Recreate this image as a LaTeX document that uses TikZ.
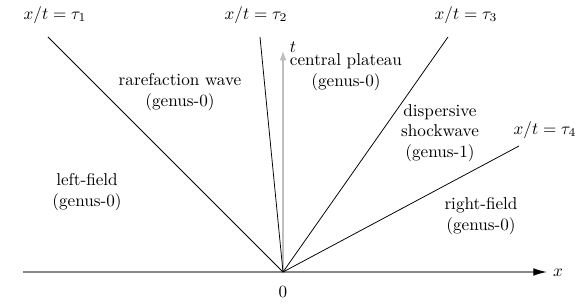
\documentclass[tikz,border=0pt]{standalone}
\usetikzlibrary{arrows.meta,positioning}
\definecolor{axisgray}{RGB}{135,135,135}
\definecolor{timegray}{RGB}{190,190,190}

\begin{document}
\begin{tikzpicture}[
    x=0.0205cm, y=-0.0205cm,
    region/.style={align=center, inner sep=1pt},
    ray/.style={line width=0.45pt, black},
    xaxis/.style={line width=0.8pt, axisgray, -{Latex[black, length=8pt, width=4.5pt]}},
    taxis/.style={line width=0.7pt, timegray, -{Latex[length=5.5pt, width=4pt]}}
]
\useasboundingbox (0,0) rectangle (581,304);
% origin and ends of the rays
\coordinate (o) at (283,272);
\coordinate (xstart) at (23,272);
\coordinate (xend) at (547,272);
\coordinate (tend) at (283,51);
\coordinate (r1) at (48,37);
\coordinate (r2) at (260,37);
\coordinate (r3) at (448,37);
\coordinate (r4) at (519,146);

\draw[xaxis] (xstart) -- (xend);
\draw[taxis] (o) -- (tend);
\foreach \r in {r1,r2,r3,r4}
    \draw[ray] (o) -- (\r);

\node (xlab) at (558,273) {$x$};
\node (tlab) at (293,47) {$t$};
\node (zero) at (283,292) {$0$};

\node (tau1) at (55,15) {$x/t=\tau_1$};
\node (tau2) at (256,15) {$x/t=\tau_2$};
\node (tau3) at (466,15) {$x/t=\tau_3$};
\node (tau4) at (545,130) {$x/t=\tau_4$};

\node[region] (raref) at (180,92) {rarefaction wave\\(genus-0)};
\node[region] (plateau) at (346,72) {central plateau\\(genus-0)};
\node[region] (shock) at (440,133) {dispersive\\shockwave\\(genus-1)};
\node[region] (lfield) at (87,192) {left-field\\(genus-0)};
\node[region] (rfield) at (481,216) {right-field\\(genus-0)};
\end{tikzpicture}
\end{document}
